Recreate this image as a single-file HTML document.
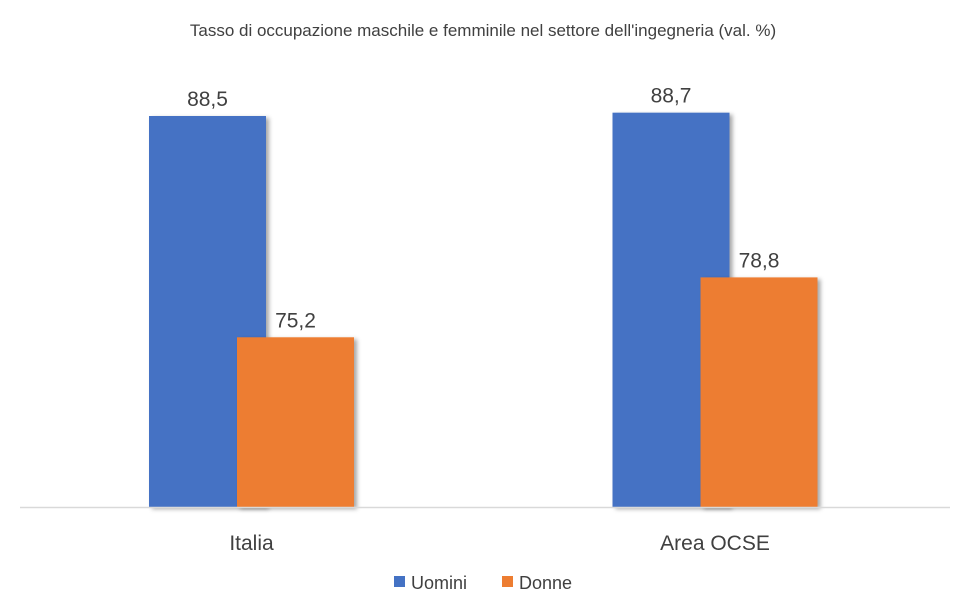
<!DOCTYPE html>
<html><head><meta charset="utf-8"><style>
html,body{margin:0;padding:0;background:#fff;}
svg{display:block;font-family:"Liberation Sans",sans-serif;}
</style></head><body>
<svg id="chart" width="967" height="616" viewBox="0 0 967 616">
<defs><filter id="sh" x="-10%" y="-10%" width="130%" height="130%"><feDropShadow dx="3" dy="2" stdDeviation="2" flood-color="#000" flood-opacity="0.35"/></filter></defs>
<rect x="0" y="0" width="967" height="616" fill="#fff"/>
<text x="483" y="36" text-anchor="middle" font-size="17" fill="#404040">Tasso di occupazione maschile e femminile nel settore dell'ingegneria (val. %)</text>
<g id="bars"></g>
<line x1="20" y1="507.5" x2="950" y2="507.5" stroke="#d9d9d9" stroke-width="1.5"/>
<g id="cats"></g>
<g>
<rect x="394" y="576" width="11" height="11" fill="#4472c4"/>
<text x="411" y="589" font-size="18" fill="#404040">Uomini</text>
<rect x="502" y="576" width="11" height="11" fill="#ed7d31"/>
<text x="519" y="589" font-size="18" fill="#404040">Donne</text>
</g>
</svg>
<script>
const categories = ["Italia", "Area OCSE"];
const uomini = [88.5, 88.7];
const donne = [75.2, 78.8];
const labelsU = ["88,5", "88,7"];
const labelsD = ["75,2", "78,8"];

const yMin = 65, yMax = 88.5, yBase = 507, yTopPx = 116;
function y(v){ return yBase - (v - yMin) * (yBase - yTopPx) / (yMax - yMin); }
const groupCenter = [251.5, 715];
const barW = 117, offset = 44;
const ns = "http://www.w3.org/2000/svg";
const gb = document.getElementById("bars"), gc = document.getElementById("cats");
function mk(tag, attrs, parent){ const e = document.createElementNS(ns, tag); for (const k in attrs) e.setAttribute(k, attrs[k]); parent.appendChild(e); return e; }
categories.forEach((c, i) => {
  const cx = groupCenter[i];
  [[uomini, labelsU, "#4472c4", -offset, "uomini"], [donne, labelsD, "#ed7d31", offset, "donne"]].forEach(s => {
    const v = s[0][i], bx = cx + s[3] - barW / 2, top = y(v);
    const r = mk("rect", {x: bx, y: top, width: barW, height: yBase - top, fill: s[2], filter: "url(#sh)"}, gb);
    
    
    const t = mk("text", {x: bx + barW / 2, y: top - 10, "text-anchor": "middle", "font-size": "21", fill: "#404040"}, gb);
    t.textContent = s[1][i];
    
    
  });
  const ct = mk("text", {x: cx, y: 550, "text-anchor": "middle", "font-size": "21", fill: "#404040"}, gc);
  ct.textContent = c;
  
  
});
</script>
</body></html>
